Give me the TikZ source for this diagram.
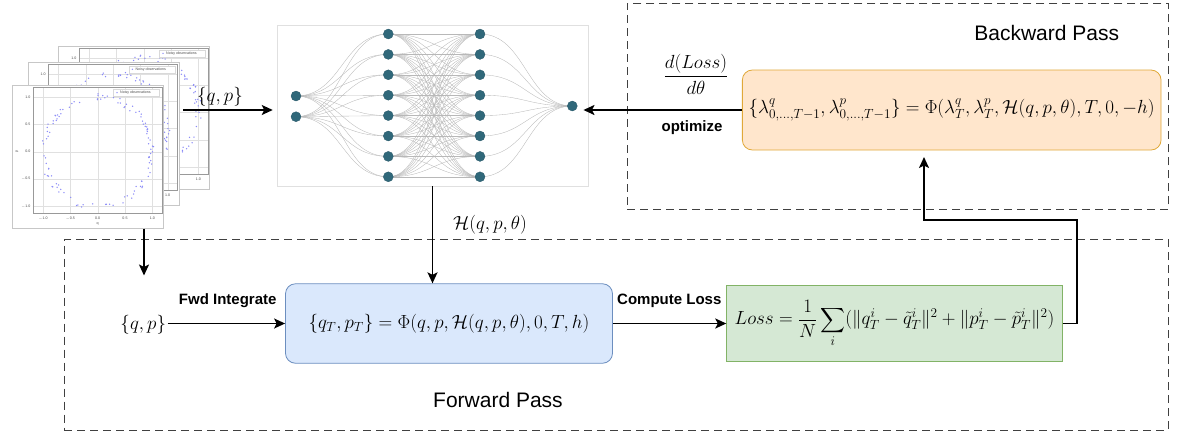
\RequirePackage{fix-cm}
\documentclass[tikz,border=0pt]{standalone}
\usepackage{amsmath}
\usepackage[no-math]{fontspec}
\newfontfamily\arialf{Liberation Sans}
\usetikzlibrary{arrows.meta,backgrounds,calc}
\definecolor{nncol}{HTML}{30687A}
\definecolor{bfill}{HTML}{DAE8FC}
\definecolor{bdraw}{HTML}{6C8EBF}
\definecolor{ofill}{HTML}{FFE6CC}
\definecolor{odraw}{HTML}{E0A838}
\definecolor{gfill}{HTML}{D5E8D4}
\definecolor{gdraw}{HTML}{82B366}
\definecolor{ptcol}{HTML}{8A8AF8}
\tikzset{
  arr/.style={line width=1.8pt, -{Stealth[length=11pt,width=10pt,inset=2.5pt]}},
  lbl/.style={font=\arialf\bfseries\fontsize{15}{18}\selectfont, inner sep=0pt},
  passlbl/.style={font=\arialf\fontsize{21}{25}\selectfont, inner sep=0pt},
  mth/.style={font=\fontsize{19}{22}\selectfont},
  passbox/.style={draw=black!75, dash pattern=on 8pt off 5pt, line width=0.8pt, inner sep=0pt},
  neuron/.style={circle, fill=nncol, draw=nncol!85!black, line width=0.3pt, inner sep=0pt, minimum size=10pt},
  conn/.style={black!28, line width=0.35pt},
  tick/.style={font=\arialf\fontsize{3.6}{4}\selectfont, inner sep=0pt, text=black!70},
}
\newcommand\plotimg[4]{%
\begin{scope}[shift={(#1,#2)}]
  \node[draw=black!22, fill=white, line width=0.4pt, minimum width=151pt, minimum height=143.3pt, inner sep=0pt] (#4) at (87.8,156.65) {};
  \foreach \u in {-1,-0.5,0,0.5,1}{
    \draw[black!12, line width=0.3pt] ({97.7+54.6*\u},87.3) -- ({97.7+54.6*\u},213.3);
    \draw[black!12, line width=0.3pt] (32.7,{151.7-54.6*\u}) -- (161.7,{151.7-54.6*\u});
  }
  \draw[black!40, line width=0.4pt] (32.7,87.3) rectangle (161.7,213.3);
  \foreach \u/\t [count=\c] in {-1/{$-$1.0}, -0.5/{$-$0.5}, 0/0.0, 0.5/0.5, 1/1.0}{
    \node[tick] (#4x\c) at ({97.7+54.6*\u},218.3) {\t};
    \node[tick, anchor=east] (#4y\c) at (30.5,{151.7-54.6*\u}) {\t};
  }
  \node[tick] (#4q) at (97.7,223.8) {q};
  \node[tick, rotate=90] (#4p) at (17,151.7) {p};
  \pgfmathsetseed{#3}
  \foreach \k in {1,...,110}{
    \pgfmathsetmacro\ang{360*rnd}
    \pgfmathsetmacro\rr{1+0.06*rand}
    \fill[ptcol] ({97.7+54.6*\rr*cos(\ang)},{151.7-54.6*\rr*sin(\ang)}) circle (0.75pt);
  }
  \node[draw=black!15, fill=white, line width=0.3pt, minimum width=46pt, minimum height=6.7pt, inner sep=0pt] (#4leg) at (136.3,92.6) {};
  \fill[ptcol] (117,92.6) circle (0.75pt);
  \node[tick, anchor=west] (#4legt) at (120,92.6) {Noisy observations};
\end{scope}}
\begin{document}
\begin{tikzpicture}[x=1pt,y=-1pt]
\useasboundingbox (0,0) rectangle (1181,432);

% dashed pass boxes
\node[passbox, minimum width=541pt, minimum height=206pt] (bp) at (897.8,106.3) {};
\node[passbox, minimum width=1104pt, minimum height=190.7pt] (fp) at (616.3,334.65) {};
\node[passlbl] (bpl) at (1046.7,33.3) {Backward Pass};
\node[passlbl] (fpl) at (498,400) {Forward Pass};

% plots
\plotimg{46}{-39.3}{7}{plotB}
\plotimg{15.4}{-23.3}{19}{plotM}
\plotimg{0}{0}{42}{plotF}

% neural network
\node[draw=black!12, line width=0.5pt, minimum width=311pt, minimum height=161pt, inner sep=0pt] (nn) at (432.5,105.5) {};
\node[neuron] (i1) at (296,96) {};
\node[neuron] (i2) at (296,116.7) {};
\foreach \k in {1,...,8}{
  \node[neuron] (a\k) at (388.3,{34+(\k-1)*20.4}) {};
  \node[neuron] (b\k) at (480,{34+(\k-1)*20.4}) {};
}
\node[neuron] (o) at (572.3,106) {};
\begin{pgfonlayer}{background}
  \foreach \k in {1,...,8}{
    \foreach \j in {1,2}{
      \draw[conn] (i\j.center) .. controls +(46,0) and +(-46,0) .. (a\k.center);
    }
    \foreach \m in {1,...,8}{
      \draw[conn] (a\k.center) .. controls +(46,0) and +(-46,0) .. (b\m.center);
    }
    \draw[conn] (b\k.center) .. controls +(46,0) and +(-46,0) .. (o.center);
  }
\end{pgfonlayer}

% process boxes
\node[draw=bdraw, fill=bfill, line width=0.8pt, rounded corners=10pt, minimum width=327pt, minimum height=79.5pt, mth] (fwd) at (449,323.5)
  {$\{q_T, p_T\} = \Phi(q,p,\mathcal{H}(q,p,\theta),0,T,h)$};
\node[draw=gdraw, fill=gfill, line width=0.8pt, minimum width=335.6pt, minimum height=76.7pt, mth] (loss) at (894.5,323.5)
  {$\displaystyle Loss = \frac{1}{N}\sum_i (\|q^i_T - \tilde{q}^i_T\|^2 + \|p^i_T - \tilde{p}^i_T\|^2)$};
\node[draw=odraw, fill=ofill, line width=0.8pt, rounded corners=10pt, minimum width=418.7pt, minimum height=80pt, mth] (bwd) at (951.7,110)
  {$\{\lambda^q_{0,\ldots,T-1}, \lambda^p_{0,\ldots,T-1}\} = \Phi(\lambda^q_T, \lambda^p_T, \mathcal{H}(q,p,\theta), T, 0, -h)$};

% labels
\node[mth] (qp1) at (220,96.7) {$\{q,p\}$};
\node[mth] (qp2) at (143.3,325) {$\{q,p\}$};
\node[mth] (hl) at (490,224.3) {$\mathcal{H}(q,p,\theta)$};
\node[mth] (dl) at (696,74) {$\dfrac{d(Loss)}{d\theta}$};
\node[lbl] (fi) at (227.7,300.7) {Fwd Integrate};
\node[lbl] (cl) at (669.3,300.7) {Compute Loss};
\node[lbl] (op) at (692,128) {optimize};

% connectors
\coordinate (qpS) at (183,110);
\draw[arr, shorten >=4pt] (qpS) -- (qpS -| nn.west);
\draw[arr] ([xshift=56.2pt]plotF.south) -- ++(0,47);
\coordinate (qpE) at ($(qp2.east |- fwd.west)+(-2,0)$);
\draw[arr] (qpE) -- (fwd.west);
\draw[arr] (nn.south) -- (nn.south |- fwd.north);
\draw[arr] (fwd.east) -- (loss.west);
\coordinate (lc) at (1077,220);
\coordinate (bc) at (924,157);
\draw[arr] (loss.east) -| (lc) -| (bc);
\draw[arr] (bwd.west) -- ([xshift=6pt]o.east |- bwd.west);
\end{tikzpicture}
\end{document}
